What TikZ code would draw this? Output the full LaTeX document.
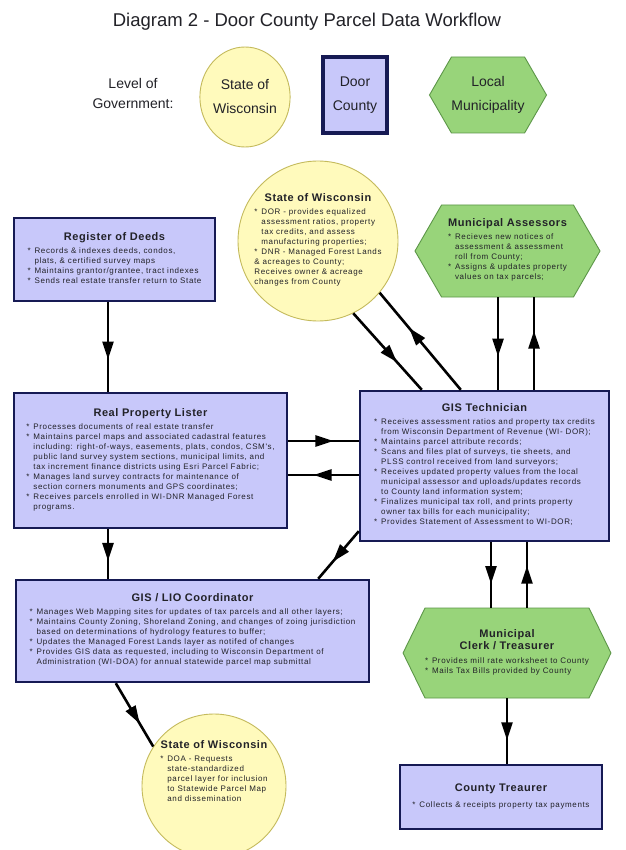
\documentclass[tikz,border=0pt]{standalone}
\usepackage{fontspec}
\setmainfont{Liberation Sans}
\newfontfamily\bodyfont[LetterSpace=8]{Liberation Sans}
\newfontfamily\headfont[LetterSpace=5]{Liberation Sans}
\usetikzlibrary{arrows.meta,
                decorations.markings,
                positioning,
                shapes.geometric, shapes.symbols}

\definecolor{countyfill}{RGB}{200,200,250}
\definecolor{countyline}{RGB}{22,26,84}
\definecolor{statefill}{RGB}{255,250,188}
\definecolor{stateline}{RGB}{196,186,92}
\definecolor{localfill}{RGB}{152,212,122}
\definecolor{localline}{RGB}{92,150,72}
\definecolor{inkgray}{RGB}{34,34,40}

\newcommand{\ttl}[1]{{\headfont\bfseries\fontsize{11}{13}\selectfont #1}}
\newcommand{\hd}[1]{\multicolumn{1}{@{}c@{}}{\ttl{#1}}}
\newcommand{\bl}{\makebox[7pt][l]{*}}
\newcommand{\ind}{\hspace*{7pt}}

\begin{document}
\begin{tikzpicture}[x=1pt, y=-1pt,
     base/.style = {align=center, text=inkgray, inner sep=0pt,
                    font=\bodyfont\fontsize{8}{10}\selectfont},
   county/.style = {base, rectangle, draw=countyline, line width=2.4pt,
                    fill=countyfill},
    state/.style = {base, circle, draw=stateline, line width=0.9pt,
                    fill=statefill},
    local/.style = {base, signal, signal to=west and east,
                    signal pointer angle=120,
                    draw=localline, line width=0.9pt, fill=localfill},
   legend/.style = {font=\fontsize{14}{24}\selectfont, text=inkgray},
     flow/.style = {line width=2.6pt, postaction={decorate},
                    decoration={markings, mark=at position #1 with
                      {\arrow{Triangle[length=18pt, width=11pt]}}}},
   flow/.default = 0.64
                    ]
\fill[white] (0,0) rectangle (625,850);
\useasboundingbox (0,0) rectangle (625,850);
% title and legend
\node[text=inkgray, font=\fontsize{18.5}{22}\selectfont] (title) at (307,22)
     {Diagram 2 - Door County Parcel Data Workflow};
\node[legend, align=center, font=\fontsize{14}{20}\selectfont] (level) at (133,93)
     {Level of\\Government:};
\node[state, ellipse, legend, minimum width=84, minimum height=100] (keyState) at (245,97)
     {State of\\Wisconsin};
\node[county, legend, line width=3.5pt, minimum width=64, minimum height=76] (keyCounty) at (355,95)
     {Door\\County};
\node[local, legend, minimum width=104, minimum height=76] (keyLocal) at (488,95)
     {Local\\Municipality};
% state
\node[state, minimum size=160] (stTop) at (318,241) {\begin{tabular}{@{}l@{}}
    \hd{State of Wisconsin}\\[3pt]
    \bl DOR - provides equalized\\
    \ind assessment ratios, property\\
    \ind tax credits, and assess\\
    \ind manufacturing properties;\\
    \bl DNR - Managed Forest Lands\\
    \& acreages to County;\\
    Receives owner \& acreage\\
    changes from County
  \end{tabular}};
\node[state, minimum size=144] (stBot) at (214,786) {\begin{tabular}{@{}l@{}}
    \hd{State of Wisconsin}\\[3pt]
    \bl DOA - Requests\\
    \ind state-standardized\\
    \ind parcel layer for inclusion\\
    \ind to Statewide Parcel Map\\
    \ind and dissemination\\[26pt]
  \end{tabular}};
% county
\node[county, minimum width=201, minimum height=83] (deeds) at (114.5,259.5) {\begin{tabular}{@{}l@{}}
    \hd{Register of Deeds}\\[3pt]
    \bl Records \& indexes deeds, condos,\\
    \ind plats, \& certified survey maps\\
    \bl Maintains grantor/grantee, tract indexes\\
    \bl Sends real estate transfer return to State
  \end{tabular}};
\node[county, minimum width=273, minimum height=135] (lister) at (150.5,460.5) {\begin{tabular}{@{}l@{}}
    \hd{Real Property Lister}\\[3pt]
    \bl Processes documents of real estate transfer\\
    \bl Maintains parcel maps and associated cadastral features\\
    \ind including: right-of-ways, easements, plats, condos, CSM's,\\
    \ind public land survey system sections, municipal limits, and\\
    \ind tax increment finance districts using Esri Parcel Fabric;\\
    \bl Manages land survey contracts for maintenance of\\
    \ind section corners monuments and GPS coordinates;\\
    \bl Receives parcels enrolled in WI-DNR Managed Forest\\
    \ind programs.
  \end{tabular}};
\node[county, minimum width=249, minimum height=150] (gis) at (484.5,466) {\begin{tabular}{@{}l@{}}
    \hd{GIS Technician}\\[3pt]
    \bl Receives assessment ratios and property tax credits\\
    \ind from Wisconsin Department of Revenue (WI- DOR);\\
    \bl Maintains parcel attribute records;\\
    \bl Scans and files plat of surveys, tie sheets, and\\
    \ind PLSS control received from land surveyors;\\
    \bl Receives updated property values from the local\\
    \ind municipal assessor and uploads/updates records\\
    \ind to County land information system;\\
    \bl Finalizes municipal tax roll, and prints property\\
    \ind owner tax bills for each municipality;\\
    \bl Provides Statement of Assessment to WI-DOR;
  \end{tabular}};
\node[county, minimum width=353, minimum height=102] (coord) at (192.5,631) {\begin{tabular}{@{}l@{}}
    \hd{GIS / LIO Coordinator}\\[3pt]
    \bl Manages Web Mapping sites for updates of tax parcels and all other layers;\\
    \bl Maintains County Zoning, Shoreland Zoning, and changes of zoing jurisdiction\\
    \ind based on determinations of hydrology features to buffer;\\
    \bl Updates the Managed Forest Lands layer as notifed of changes\\
    \bl Provides GIS data as requested, including to Wisconsin Department of\\
    \ind Administration (WI-DOA) for annual statewide parcel map submittal
  \end{tabular}};
\node[county, minimum width=202, minimum height=64] (treas) at (501,797) {\begin{tabular}{@{}l@{}}
    \hd{County Treaurer}\\[6pt]
    \bl Collects \& receipts property tax payments
  \end{tabular}};
% local
\node[local, minimum width=185, minimum height=92] (assess) at (507.5,251) {\begin{tabular}{@{}l@{}}
    \hd{Municipal Assessors}\\[3pt]
    \bl Recieves new notices of\\
    \ind assessment \& assessment\\
    \ind roll from County;\\
    \bl Assigns \& updates property\\
    \ind values on tax parcels;
  \end{tabular}};
\node[local, signal pointer angle=128, minimum width=204, minimum height=90] (clerk) at (507,653) {\begin{tabular}{@{}l@{}}
    \hd{Municipal}\\[2pt]
    \hd{Clerk / Treasurer}\\[4pt]
    \bl Provides mill rate worksheet to County\\
    \bl Mails Tax Bills provided by County
  \end{tabular}};
% connectors
\draw[flow] ([xshift=-6.5pt]deeds.south) -- ([xshift=-6.5pt]deeds.south |- lister.north);
\draw[flow] ([xshift=-42.5pt]lister.south) -- ([xshift=-42.5pt]lister.south |- coord.north);
\draw[flow] ([yshift=19.5pt]lister.east) -- ([yshift=19.5pt]lister.east -| gis.west);
\draw[flow] ([yshift=-14.5pt]lister.east -| gis.west) -- ([yshift=-14.5pt]lister.east);
\draw[flow] ([xshift=102pt]gis.north west) -- (stTop.-40);
\draw[flow] (stTop.-64) -- ([xshift=63pt]gis.north west);
\draw[flow] ([xshift=13.5pt]gis.north |- assess.south) -- ([xshift=13.5pt]gis.north);
\draw[flow] ([xshift=49.5pt]gis.north) -- ([xshift=49.5pt]gis.north |- assess.south);
\draw[flow] ([xshift=6.5pt]gis.south) -- ([xshift=6.5pt]gis.south |- clerk.north);
\draw[flow] ([xshift=42.5pt]gis.south |- clerk.north) -- ([xshift=42.5pt]gis.south);
\draw[flow] (clerk.south) -- (clerk.south |- treas.north);
\draw[flow] ([yshift=11pt]gis.south west) -- ([xshift=-52pt]coord.north east);
\draw[flow] ([xshift=101pt]coord.south west) -- (stBot.147);
\end{tikzpicture}
\end{document}
